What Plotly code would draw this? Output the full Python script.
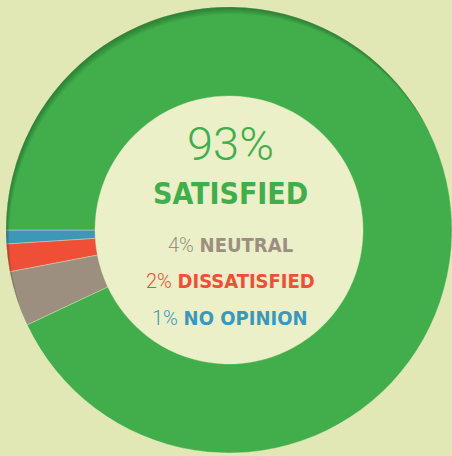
import math
import plotly.graph_objects as go

labels = ["NO OPINION", "DISSATISFIED", "NEUTRAL", "SATISFIED"]
values = [1, 2, 4, 93]
colors = ["#3d98b8", "#ef4f37", "#9c8f80", "#41ae4b"]

W, H = 452, 456
cx, cy, R, r_in = 229, 230, 223, 134

fig = go.Figure(go.Pie(
    labels=labels, values=values, sort=False,
    direction="counterclockwise", rotation=266.4,
    hole=r_in / R,
    marker=dict(colors=colors, line=dict(color="rgba(235,240,200,0.6)", width=0.6)),
    textinfo="none", hoverinfo="label+percent", showlegend=False,
    domain=dict(x=[(cx - R) / W, 1.0], y=[1 - (cy + R) / H, 1 - (cy - R) / H]),
))

def px(x):
    return x / W

def py(y):
    return 1 - y / H

fig.add_shape(type="circle", xref="paper", yref="paper", layer="below",
              x0=px(cx - r_in), x1=px(cx + r_in), y0=py(cy + r_in), y1=py(cy - r_in),
              fillcolor="#ebf0c9", line=dict(width=0))

# soft inner shadow along the outer rim (light from the top)
def crescent(d, theta0_deg):
    t0 = math.radians(theta0_deg)
    ux, uy = math.cos(t0), math.sin(t0)
    phi = math.acos(d / (2 * R))
    pts = []
    n = 120
    for i in range(n + 1):
        a = t0 + phi + (2 * math.pi - 2 * phi) * i / n
        pts.append((cx + R * math.cos(a), cy + R * math.sin(a)))
    c2x, c2y = cx + d * ux, cy + d * uy
    for i in range(n + 1):
        b = t0 + math.pi + phi - (2 * phi) * i / n
        pts.append((c2x + R * math.cos(b), c2y + R * math.sin(b)))
    path = "M " + " L ".join(f"{px(x):.5f},{py(y):.5f}" for x, y in pts) + " Z"
    return path

for k in range(1, 8):
    fig.add_shape(type="path", xref="paper", yref="paper", layer="above",
                  path=crescent(k * 1.1, 65), fillcolor="rgba(15,55,20,0.06)",
                  line=dict(width=0))

LIGHT = "Roboto"
BOLD = "Noto Sans Condensed, DejaVu Sans Condensed, sans-serif"

def ann(text, y, size, color, family, weight="normal"):
    fig.add_annotation(x=px(230), y=py(y), xref="paper", yref="paper", text=text,
                       showarrow=False, xanchor="center", yanchor="middle",
                       font=dict(family=family, size=size, color=color, weight=weight))

ann("93%", 143, 47, colors[3], LIGHT, 300)
ann("<b>SATISFIED</b>", 193, 30, colors[3], BOLD)

def line(pct, label, color, y):
    txt = (f"<span style='font-family:{LIGHT};font-weight:300'>{pct}%</span> "
           f"<b>{label}</b>")
    ann(txt, y, 20, color, BOLD)

line(values[2], labels[2], colors[2], 245)
line(values[1], labels[1], colors[1], 281)
line(values[0], labels[0], colors[0], 318)

fig.update_layout(width=W, height=H, margin=dict(l=0, r=0, t=0, b=0),
                  paper_bgcolor="#e2e8b5", plot_bgcolor="#e2e8b5")
fig.write_html("out.html", config={"displayModeBar": False},
               post_script="document.body.style.margin='0';"
                           "document.body.style.background='#e2e8b5';")
